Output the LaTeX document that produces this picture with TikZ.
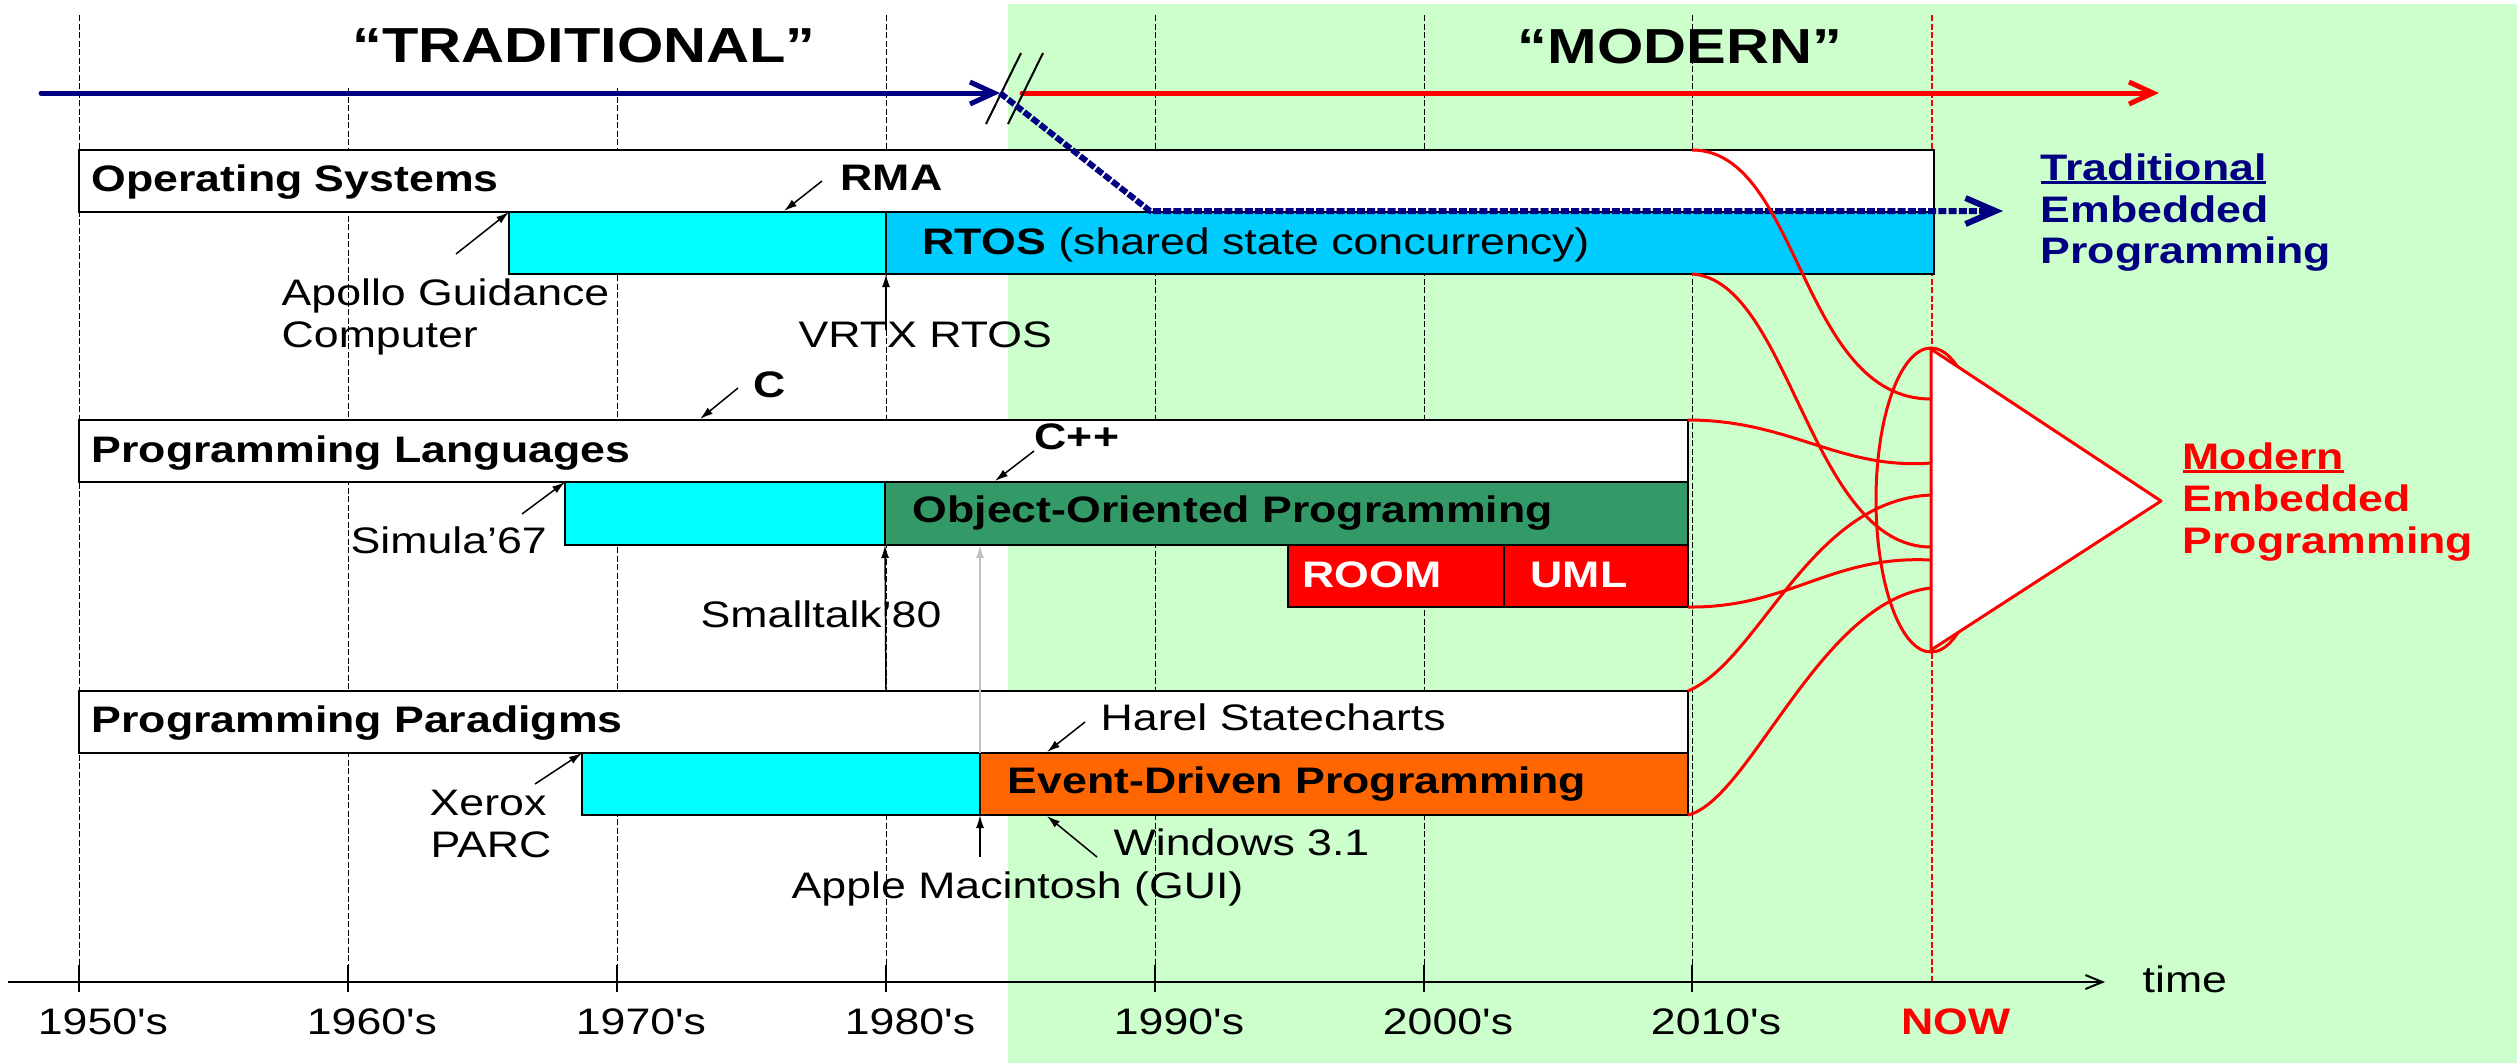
\documentclass[tikz,border=0pt]{standalone}
\usepackage{fontspec}
\setmainfont{Liberation Sans}[FakeStretch=1.21]
\newfontfamily\decadefont{Liberation Sans}[FakeStretch=1.21, Ligatures=TeXOff]
\usetikzlibrary{arrows.meta,fit}
\definecolor{modernbg}{HTML}{CCFFCC}
\definecolor{navyblue}{HTML}{000080}
\definecolor{aqua}{HTML}{00FFFF}
\definecolor{rtosblue}{HTML}{00CCFF}
\definecolor{oopgreen}{HTML}{339966}
\definecolor{edorange}{HTML}{FF6600}
\definecolor{pointergray}{HTML}{C0C0C0}
% underlined word with a heavier rule
\newcommand\ulword[1]{\setbox0\hbox{#1}\rlap{\rule[-1.2pt]{\wd0}{0.9pt}}\box0}
\begin{document}
\begin{tikzpicture}[x=0.1mm,y=-0.1mm,
  bar/.style={draw=black, line width=0.25mm, inner sep=0pt, outer sep=0pt},
  grid line/.style={line width=0.1mm, dash pattern=on 0.6mm off 0.25mm},
  txt/.style={font=\fontsize{10.5}{11.8}\selectfont, inner sep=0pt, anchor=base west},
  btxt/.style={txt, font=\fontsize{10.5}{11.8}\selectfont\bfseries},
  title/.style={font=\fontsize{14}{16}\selectfont\bfseries, inner sep=0pt, anchor=base},
  ptr/.style={-{Latex[length=1.3mm,width=0.8mm]}, line width=0.15mm},
  era arrow/.style={line width=0.5mm, line cap=round, -{Straight Barb[length=2.4mm,width=2.2mm]}},
  link/.style={red, line width=0.3mm}]
\useasboundingbox (0,0) rectangle (2517,1063);
\fill[white] (0,0) rectangle (2517,1063);
\fill[modernbg] (1008,4) rectangle (2517,1063);

% decade grid lines and ticks
\foreach \x/\y in {79/15,348/88,617/88,886/15,1155/15,1424/15,1692/15}
  \draw[grid line] (\x,\y) -- (\x,992);
\foreach \x in {79,348,617,886,1155,1424,1692}
  \draw[line width=0.15mm] (\x,965) -- (\x,992);
\draw[grid line, red, line width=0.2mm] (1932,15) -- (1932,982);

% era titles
\node[title] (trad) at (584,62) {“TRADITIONAL”};
\node[title] (modern) at (1680,63) {“MODERN”};

% operating systems
\node[bar, fill=white, fit={(79,150)(1934,212)}] (os) {};
\node[bar, fill=aqua, fit={(509,212)(886,274)}] (osA) {};
\node[bar, fill=rtosblue, fit={(886,212)(1934,274)}] (rtos) {};
\node[btxt] (osT) at (91,191) {Operating Systems};
\node[txt] (rtosT) at (922,254) {\textbf{RTOS} (shared state concurrency)};

% programming languages
\node[bar, fill=white, fit={(79,420)(1688,482)}] (pl) {};
\node[bar, fill=aqua, fit={(565,482)(885,545)}] (plA) {};
\node[bar, fill=oopgreen, fit={(885,482)(1688,545)}] (oop) {};
\node[bar, fill=red, fit={(1288,545)(1504,607)}] (room) {};
\node[bar, fill=red, fit={(1504,545)(1688,607)}] (uml) {};
\node[btxt] (plT) at (91,462) {Programming Languages};
\node[btxt] (oopT) at (912,522) {Object-Oriented Programming};
\node[btxt, white] (roomT) at (1302,587) {ROOM};
\node[btxt, white] (umlT) at (1530,587) {UML};

% programming paradigms
\node[bar, fill=white, fit={(79,691)(1688,753)}] (pp) {};
\node[bar, fill=aqua, fit={(582,753)(980,815)}] (ppA) {};
\node[bar, fill=edorange, fit={(980,753)(1688,815)}] (ed) {};
\node[btxt] (ppT) at (91,732) {Programming Paradigms};
\node[btxt] (edT) at (1007,793) {Event-Driven Programming};

% milestone labels
\node[btxt] (rma) at (840,190) {RMA};
\node[txt] (apollo1) at (281,305) {Apollo Guidance};
\node[txt] (apollo2) at (281,347) {Computer};
\node[txt] (vrtx) at (798,347) {VRTX RTOS};
\node[btxt] (clang) at (753,397) {C};
\node[btxt] (cpp) at (1034,449) {C++};
\node[txt] (simula) at (350,553) {Simula’67};
\node[txt] (smalltalk) at (700,627) {Smalltalk’80};
\node[txt] (harel) at (1100,730) {Harel Statecharts};
\node[txt] (xerox1) at (429,815) {Xerox};
\node[txt] (xerox2) at (430,857) {PARC};
\node[txt] (windows) at (1113,855) {Windows 3.1};
\node[txt] (apple) at (791,898) {Apple Macintosh (GUI)};

% milestone pointers
\coordinate (rmaTail) at (822,181);      \coordinate (rmaTip) at (784,211);
\coordinate (apolloTail) at (456,254);
\coordinate (vrtxTail) at (886,330);
\coordinate (cTail) at (738,388);        \coordinate (cTip) at (700,419);
\coordinate (cppTail) at (1034,451);     \coordinate (cppTip) at (995,481);
\coordinate (simulaTail) at (522,514);
\coordinate (smalltalkTail) at (886,690);
\coordinate (harelTail) at (1085,722);   \coordinate (harelTip) at (1047,752);
\coordinate (xeroxTail) at (535,784);
\coordinate (windowsTail) at (1097,857); \coordinate (windowsTip) at (1047,816);
\coordinate (appleTail) at (980,857);
\draw[ptr] (rmaTail) -- (rmaTip);
\draw[ptr] (apolloTail) -- (osA.north west);
\draw[ptr] (vrtxTail) -- (rtos.south west);
\draw[ptr] (cTail) -- (cTip);
\draw[ptr] (cppTail) -- (cppTip);
\draw[ptr] (simulaTail) -- (plA.north west);
\draw[ptr] (smalltalkTail) -- (oop.south west);
\draw[ptr] (harelTail) -- (harelTip);
\draw[ptr] (xeroxTail) -- (ppA.north west);
\draw[ptr] (windowsTail) -- (windowsTip);
\draw[ptr] (appleTail) -- (ed.south west);
\draw[ptr, pointergray] (ed.north west) -- (ed.north west |- oop.south);

% era arrows with the break
\coordinate (tradStart) at (41,93);
\coordinate (breakPt) at (1000,93);
\coordinate (modStart) at (1022,93);
\coordinate (modEnd) at (2159,93);
\coordinate (bend) at (1150,211);
\coordinate (tradEnd) at (2003,211);
\draw[era arrow, navyblue] (tradStart) -- (breakPt);
\draw[era arrow, red] (modStart) -- (modEnd);
\draw[line width=0.2mm] (986,124) -- (1021,53);
\draw[line width=0.2mm] (1008,124) -- (1043,53);
\draw[navyblue, line width=0.6mm, line join=round, dash pattern=on 0.8mm off 0.22mm,
  -{Straight Barb[length=3mm,width=2.6mm]}] (breakPt) -- (bend) -- (tradEnd);

% strands merging into modern embedded programming
\coordinate (m1) at (1931,399);
\coordinate (m2) at (1931,463);
\coordinate (m3) at (1931,495);
\coordinate (m4) at (1931,547);
\coordinate (m5) at (1931,560);
\coordinate (m6) at (1931,588);
\coordinate (s1) at (1692,150);
\coordinate (s2) at (1692,274);
\coordinate (s3) at (1688,420);
\coordinate (s4) at (1688,607);
\coordinate (s5) at (1688,691);
\coordinate (s6) at (1688,815);
\draw[link] (s1) .. controls (1800,150) and (1800,399) .. (m1);
\draw[link] (s2) .. controls (1790,280) and (1810,547) .. (m4);
\draw[link] (s3) .. controls (1790,420) and (1840,470) .. (m2);
\draw[link] (s4) .. controls (1790,608) and (1830,555) .. (m5);
\draw[link] (s5) .. controls (1760,660) and (1810,500) .. (m3);
\draw[link] (s6) .. controls (1750,800) and (1820,600) .. (m6);
\draw[link] (1931,500) ellipse [x radius=5.5mm, y radius=15.2mm];
\coordinate (triTop) at (1931,349);
\coordinate (triTip) at (2161,501);
\coordinate (triBot) at (1931,650);
\draw[link, fill=white, line join=round] (triTop) -- (triTip) -- (triBot) -- cycle;

% outcome labels
\node[btxt, navyblue] (tradA) at (2040,180) {\ulword{Traditional}};
\node[btxt, navyblue] (tradB) at (2040,222) {Embedded};
\node[btxt, navyblue] (tradC) at (2040,263) {Programming};
\node[btxt, red] (modA) at (2182,469) {\ulword{Modern}};
\node[btxt, red] (modB) at (2182,511) {Embedded};
\node[btxt, red] (modC) at (2182,553) {Programming};

% time axis
\coordinate (axisStart) at (8,982);
\coordinate (axisEnd) at (2105,982);
\draw[line width=0.2mm, -{Straight Barb[length=1.7mm,width=1.4mm]}] (axisStart) -- (axisEnd);
\node[txt] (timeT) at (2142,992) {time};
\foreach \x/\lab in {79/1950,348/1960,617/1970,886/1980,1155/1990,1424/2000,1692/2010}
  \node[txt, anchor=base, font=\fontsize{10.5}{11.8}\decadefont] (d\lab) at (\x+24,1034) {\lab's};
\node[btxt, red, anchor=base] (now) at (1956,1034) {NOW};
\end{tikzpicture}
\end{document}
